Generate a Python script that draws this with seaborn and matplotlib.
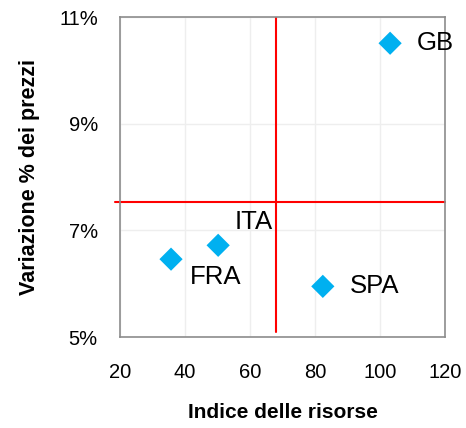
import pandas as pd
import seaborn as sns
import matplotlib.pyplot as plt
from matplotlib.ticker import FuncFormatter

countries = ['GB', 'ITA', 'FRA', 'SPA']
risorse = [103.1, 50.2, 35.7, 82.4]
prezzi = [10.51, 6.72, 6.46, 5.95]
# offsets of the labels (points)
label_offsets = [(19, 0), (12, 17), (13.5, -13), (19.5, 0)]
media_x = 68
media_y = 7.53

df = pd.DataFrame({'paese': countries, 'risorse': risorse, 'prezzi': prezzi})

sns.set_style('white')
plt.rcParams['font.family'] = ['Liberation Sans', 'DejaVu Sans']
plt.rcParams['text.color'] = 'black'
plt.rcParams['axes.labelcolor'] = 'black'

fig = plt.figure(figsize=(4.66, 4.28), dpi=100)
ax = fig.add_axes([0.2575, 0.2126, 0.6975, 0.7474])

ax.grid(True, color='#eeeeee', linewidth=1)
ax.set_axisbelow(True)

ax.plot([media_x, media_x], [11, 5.1], color='#ff0000', linewidth=1.5, zorder=2)
ax.plot([18.5, 120], [media_y, media_y], color='#ff0000', linewidth=1.5, zorder=2, clip_on=False)

sns.scatterplot(data=df, x='risorse', y='prezzi', marker='D', s=140, color='#00b0f0',
                edgecolor='none', ax=ax, zorder=3)

for name, x, y, off in zip(countries, risorse, prezzi, label_offsets):
    ax.annotate(name, (x, y), xytext=off, textcoords='offset points',
                ha='left', va='center', fontsize=18.5, color='black')

ax.set_xlim(20, 120)
ax.set_ylim(5, 11)
ax.set_xticks([20, 40, 60, 80, 100, 120])
ax.set_yticks([5, 7, 9, 11])
ax.yaxis.set_major_formatter(FuncFormatter(lambda v, p: f'{v:.0f}%'))
ax.tick_params(axis='both', length=0, labelsize=14.5, colors='black')
ax.tick_params(axis='x', pad=19)
ax.tick_params(axis='y', pad=16)

for s in ax.spines.values():
    s.set_color('#8c8c8c')
    s.set_linewidth(1.2)

ax.set_xlabel('Indice delle risorse', fontsize=15, fontweight='bold', labelpad=15)
ax.set_ylabel('Variazione % dei prezzi', fontsize=15.5, fontweight='bold', labelpad=14)

fig.savefig('out.png', dpi=100)
